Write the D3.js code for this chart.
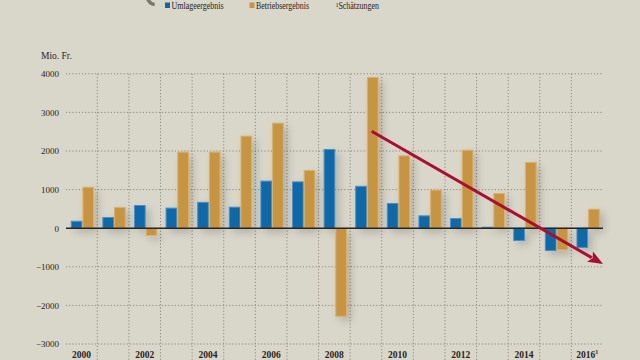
<!DOCTYPE html>
<html><head><meta charset="utf-8">
<script src="https://cdn.jsdelivr.net/npm/d3@7"></script>
<style>
html,body{margin:0;padding:0;background:#d9d6ca;}
svg{display:block;}
text{font-family:"Liberation Serif","DejaVu Serif",serif;fill:#2a2420;}
</style></head>
<body>
<script>
const years = ["2000","2001","2002","2003","2004","2005","2006","2007","2008","2009","2010","2011","2012","2013","2014","2015","2016"];
const umlage = [180, 277, 588, 520, 670, 545, 1220, 1200, 2040, 1085, 640, 320, 250, 25, -320, -578, -500];
const betrieb = [1060, 536, -190, 1970, 1970, 2385, 2720, 1495, -2280, 3905, 1875, 985, 2020, 900, 1702, -562, 492];
const yTicks = [4000, 3000, 2000, 1000, 0, -1000, -2000, -3000];
const yearLabels = ["2000","2002","2004","2006","2008","2010","2012","2014","2016"];
const seriesNames = ["Umlageergebnis", "Betriebsergebnis"];
const colors = ["#0b69aa", "#c79442"];
const strokes = ["#4d8fc0", "#dcb068"];
// trend arrow: [year, fraction within band, value]
const arrowFrom = ["2009", 0.68, 2510];
const arrowTo = ["2016", 1.0, -930];

const W = 640, H = 360;
const svg = d3.select("body").append("svg").attr("width", W).attr("height", H);
svg.append("rect").attr("width", W).attr("height", H).attr("fill", "#d9d6ca");

const defs = svg.append("defs");
const f = defs.append("filter").attr("id", "sh").attr("x", "-50%").attr("y", "-20%").attr("width", "200%").attr("height", "140%");
f.append("feGaussianBlur").attr("in", "SourceAlpha").attr("stdDeviation", 4).attr("result", "b");
f.append("feOffset").attr("in", "b").attr("dx", 4).attr("dy", 4).attr("result", "o");
f.append("feComponentTransfer").attr("in", "o").attr("result", "o2")
  .append("feFuncA").attr("type", "linear").attr("slope", 0.18);
const m = f.append("feMerge");
m.append("feMergeNode").attr("in", "o2");
m.append("feMergeNode").attr("in", "SourceGraphic");

const x = d3.scaleBand().domain(years).range([65.7, 603]).paddingInner(0).paddingOuter(0);
const y = d3.scaleLinear().domain([-3000, 4000]).range([344, 73.8]);
const bw = x.bandwidth();
const sub = d3.scaleBand().domain(seriesNames).range([bw * 0.16, bw * 0.9]).padding(0);

// horizontal grid
const yAxis = d3.axisLeft(y).tickValues(yTicks).tickSize(0).tickPadding(7).tickFormat(d => d === 0 ? "0" : d3.format("d")(d).replace("-", "\u2212"));
const gy = svg.append("g").attr("transform", "translate(66,0)").call(yAxis);
gy.select(".domain").remove();
gy.selectAll("text").attr("font-size", 9).attr("fill", "#2a2420").attr("font-family", "Liberation Serif, serif");

svg.append("g").selectAll("line").data(yTicks.filter(d => d !== 0)).join("line")
  .attr("x1", 66).attr("x2", 603).attr("y1", d => y(d)).attr("y2", d => y(d))
  .attr("stroke", "#8f8a80").attr("stroke-width", 1).attr("stroke-dasharray", "1.2,2");

// vertical grid
svg.append("g").selectAll("line").data(years.slice(1)).join("line")
  .attr("x1", d => x(d)).attr("x2", d => x(d)).attr("y1", y(4000)).attr("y2", 360)
  .attr("stroke", "#8f8a80").attr("stroke-width", 1).attr("stroke-dasharray", "1.2,2");

// bars
const data = [];
years.forEach((yr, i) => {
  data.push({year: yr, s: 0, v: umlage[i]});
  data.push({year: yr, s: 1, v: betrieb[i]});
});
svg.append("g").attr("filter", "url(#sh)").selectAll("rect").data(data).join("rect")
  .attr("x", d => x(d.year) + sub(seriesNames[d.s]) + 0.5)
  .attr("width", sub.bandwidth() - 1)
  .attr("y", d => Math.min(y(d.v), y(0)))
  .attr("height", d => Math.abs(y(d.v) - y(0)))
  .attr("fill", d => colors[d.s])
  .attr("stroke", d => strokes[d.s]).attr("stroke-width", 1);

// zero line
svg.append("line").attr("x1", 66).attr("x2", 603).attr("y1", y(0)).attr("y2", y(0))
  .attr("stroke", "#2a2420").attr("stroke-width", 1.6);

// x labels
const xl = svg.append("g").selectAll("text").data(yearLabels).join("text")
  .attr("x", d => x(d) + bw / 2).attr("y", 357.5).attr("text-anchor", "middle")
  .attr("font-size", 9.5).attr("font-weight", "bold");
xl.text(d => d);
xl.filter(d => d === "2016").append("tspan").attr("dy", -3.5).attr("font-size", 6).text("1");

// y unit
svg.append("text").attr("x", 41).attr("y", 59).attr("font-size", 9.5).text("Mio. Fr.");

// arrow
const ax1 = x(arrowFrom[0]) + bw * arrowFrom[1], ay1 = y(arrowFrom[2]);
const ax2 = x(arrowTo[0]) + bw * arrowTo[1], ay2 = y(arrowTo[2]);
const ang = Math.atan2(ay2 - ay1, ax2 - ax1);
const hl = 15, hw = 6;
const bx = ax2 - hl * Math.cos(ang), by = ay2 - hl * Math.sin(ang);
svg.append("line").attr("x1", ax1).attr("y1", ay1).attr("x2", bx + 2 * Math.cos(ang)).attr("y2", by + 2 * Math.sin(ang))
  .attr("stroke", "#a80f30").attr("stroke-width", 3);
svg.append("path").attr("d", d3.line()([
  [ax2, ay2],
  [bx + hw * Math.sin(ang), by - hw * Math.cos(ang)],
  [bx + 3 * Math.cos(ang), by + 3 * Math.sin(ang)],
  [bx - hw * Math.sin(ang), by + hw * Math.cos(ang)]
]) + "Z").attr("fill", "#a80f30");

// legend
svg.append("path").attr("d", d3.arc()({innerRadius: 7, outerRadius: 10.5, startAngle: Math.PI * 1.05, endAngle: Math.PI * 1.75}))
  .attr("transform", "translate(156,-4)").attr("fill", "#7a7670");
const leg = [{n: seriesNames[0], c: colors[0], x: 165, w: 52}, {n: seriesNames[1], c: colors[1], x: 249.5, w: 53}];
leg.forEach(l => {
  svg.append("rect").attr("x", l.x).attr("y", 2.5).attr("width", 5).attr("height", 5.5).attr("fill", l.c);
  svg.append("text").attr("x", l.x + 6.5).attr("y", 9).attr("font-size", 9.5)
    .attr("textLength", l.w).attr("lengthAdjust", "spacingAndGlyphs").text(l.n);
});
svg.append("text").attr("x", 336).attr("y", 9).attr("font-size", 9.5)
  .attr("textLength", 43).attr("lengthAdjust", "spacingAndGlyphs").text("\u00b9Schätzungen");
</script>
</body></html>
